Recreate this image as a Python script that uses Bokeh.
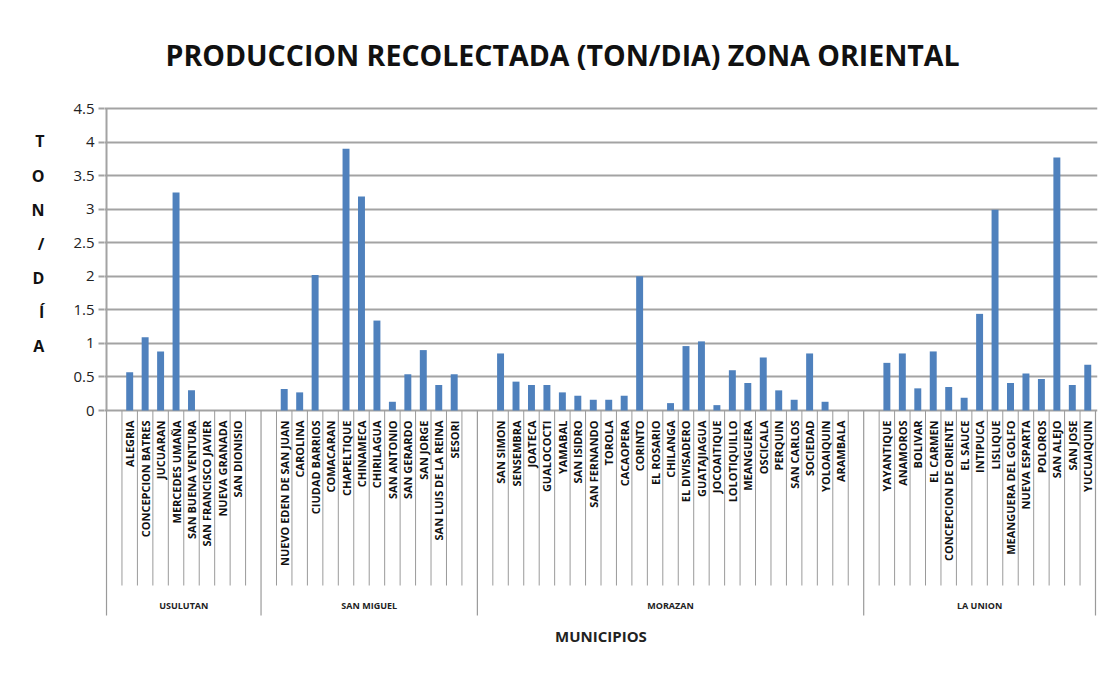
import math
from bokeh.plotting import figure
from bokeh.models import Range1d, FixedTicker, Label, ColumnDataSource, NumeralTickFormatter
from bokeh.core.properties import value
from bokeh.embed import file_html
from bokeh.resources import INLINE

# ---------------- data ----------------
departamentos = ["USULUTAN", "SAN MIGUEL", "MORAZAN", "LA UNION"]

usulutan_municipios = ["ALEGRIA", "CONCEPCION BATRES", "JUCUARAN", "MERCEDES UMAÑA",
                       "SAN BUENA VENTURA", "SAN FRANCISCO JAVIER", "NUEVA GRANADA", "SAN DIONISIO"]
usulutan_ton = [0.57, 1.09, 0.88, 3.25, 0.30, 0, 0, 0]

san_miguel_municipios = ["NUEVO EDEN DE SAN JUAN", "CAROLINA", "CIUDAD BARRIOS", "COMACARAN",
                         "CHAPELTIQUE", "CHINAMECA", "CHIRILAGUA", "SAN ANTONIO", "SAN GERARDO",
                         "SAN JORGE", "SAN LUIS DE LA REINA", "SESORI"]
san_miguel_ton = [0.32, 0.27, 2.02, 0, 3.90, 3.19, 1.34, 0.13, 0.54, 0.90, 0.38, 0.54]

morazan_municipios = ["SAN SIMON", "SENSEMBRA", "JOATECA", "GUALOCOCTI", "YAMABAL", "SAN ISIDRO",
                      "SAN FERNANDO", "TOROLA", "CACAOPERA", "CORINTO", "EL ROSARIO", "CHILANGA",
                      "EL DIVISADERO", "GUATAJIAGUA", "JOCOAITIQUE", "LOLOTIQUILLO", "MEANGUERA",
                      "OSCICALA", "PERQUIN", "SAN CARLOS", "SOCIEDAD", "YOLOAIQUIN", "ARAMBALA"]
morazan_ton = [0.85, 0.43, 0.38, 0.38, 0.27, 0.22, 0.16, 0.16, 0.22, 2.00, 0, 0.11,
               0.96, 1.03, 0.08, 0.60, 0.41, 0.79, 0.30, 0.16, 0.85, 0.13, 0]

la_union_municipios = ["YAYANTIQUE", "ANAMOROS", "BOLIVAR", "EL CARMEN", "CONCEPCION DE ORIENTE",
                       "EL SAUCE", "INTIPUCA", "LISLIQUE", "MEANGUERA DEL GOLFO", "NUEVA ESPARTA",
                       "POLOROS", "SAN ALEJO", "SAN JOSE", "YUCUAIQUIN"]
la_union_ton = [0.71, 0.85, 0.33, 0.88, 0.35, 0.19, 1.44, 2.99, 0.41, 0.55, 0.47, 3.77, 0.38, 0.68]

# empty category slots (blank rows in the source sheet) before / after each group
blank_before = [1, 1, 1, 1]
blank_after = [1, 1, 1, 0]

y_ticks = [0, 0.5, 1, 1.5, 2, 2.5, 3, 3.5, 4, 4.5]

# ---------------- build slot table ----------------
groups = [
    (usulutan_municipios, usulutan_ton),
    (san_miguel_municipios, san_miguel_ton),
    (morazan_municipios, morazan_ton),
    (la_union_municipios, la_union_ton),
]
xs, names, tons = [], [], []
group_bounds = [0]
group_centers = []
slot = 0
for gi, (munis, vals) in enumerate(groups):
    start = slot
    slot += blank_before[gi]
    for m, v in zip(munis, vals):
        xs.append(slot + 0.5)
        names.append(m)
        tons.append(v)
        slot += 1
    slot += blank_after[gi]
    group_bounds.append(slot)
    group_centers.append((start + slot) / 2)
n_slots = slot

PX_Y = 67.11  # px per unit (for placing texts in data space)
def ydata(py):
    return (410 - py) / PX_Y

p = figure(width=1100, height=666,
           x_range=Range1d(-0.13, n_slots + 0.13),
           y_range=Range1d(ydata(652), ydata(5)),
           output_backend="svg", toolbar_location=None,
           x_axis_location=None, title=None,
           min_border_left=104, min_border_right=3, min_border_top=5, min_border_bottom=14)
p.background_fill_color = "white"
p.border_fill_color = "white"
p.outline_line_color = None
p.xgrid.visible = False

p.ygrid.ticker = FixedTicker(ticks=y_ticks)
p.ygrid.grid_line_color = "#a3a3a3"
p.ygrid.grid_line_width = 2

yax = p.yaxis[0]
yax.ticker = FixedTicker(ticks=y_ticks)
yax.formatter = NumeralTickFormatter(format="0.[0]")
yax.axis_line_color = None
yax.major_tick_line_color = "#a3a3a3"
yax.major_tick_line_width = 2
yax.major_tick_in = 0
yax.major_tick_out = 6
yax.minor_tick_line_color = None
yax.major_label_standoff = 4
yax.major_label_text_font = "Open Sans"
yax.major_label_text_font_size = "15px"
yax.major_label_text_color = "#222222"
# stacked vertical title "TON/DÍA" (blank lines lift it to the value area)
yax.axis_label = "T\nO\nN\n/\nD\nÍ\nA\n \n \n \n \n "
yax.axis_label_orientation = "horizontal"
yax.axis_label_text_font = "Open Sans"
yax.axis_label_text_font_size = "16px"
yax.axis_label_text_font_style = "bold"
yax.axis_label_text_color = "#111111"
yax.axis_label_text_line_height = 1.55
yax.axis_label_standoff = 26

# vertical axis line
p.segment(x0=[0], y0=[ydata(108)], x1=[0], y1=[0], line_color="#a3a3a3", line_width=2)

# bars
src = ColumnDataSource(dict(x=xs, top=tons, name=names))
p.vbar(x="x", top="top", width=0.45, source=src, fill_color="#4F81BD", line_color=None)

# category separators
inner = [i for i in range(n_slots + 1) if i not in group_bounds]
p.segment(x0=inner, y0=[0] * len(inner), x1=inner, y1=[ydata(585)] * len(inner),
          line_color="#9a9a9a", line_width=1)
p.segment(x0=group_bounds, y0=[0] * len(group_bounds), x1=group_bounds,
          y1=[ydata(615)] * len(group_bounds), line_color="#9a9a9a", line_width=1.2)

# category labels
p.text(x="x", y=ydata(420), text="name", source=src, angle=math.pi / 2,
       text_align="right", text_baseline="middle",
       text_font=value("Open Sans"), text_font_size="11px", text_font_style="bold",
       text_color="#111111")

# group labels
p.text(x=group_centers, y=[ydata(605)] * 4, text=departamentos,
       text_align="center", text_baseline="middle",
       text_font=value("Open Sans"), text_font_size="9px", text_font_style="bold",
       text_color="#222222")

# x axis title
p.text(x=[n_slots / 2], y=[ydata(635)], text=["MUNICIPIOS"],
       text_align="center", text_baseline="middle",
       text_font=value("Open Sans"), text_font_size="15px", text_font_style="bold",
       text_color="#222222")

# chart title
p.add_layout(Label(x=(562 - 104) / 15.45 - 0.13, y=ydata(54),
                   text="PRODUCCION RECOLECTADA (TON/DIA) ZONA ORIENTAL",
                   text_align="center", text_baseline="middle",
                   text_font="Open Sans", text_font_size="28.5px",
                   text_font_style="bold", text_color="#111111"))

open("out.html", "w").write(file_html(p, INLINE))
